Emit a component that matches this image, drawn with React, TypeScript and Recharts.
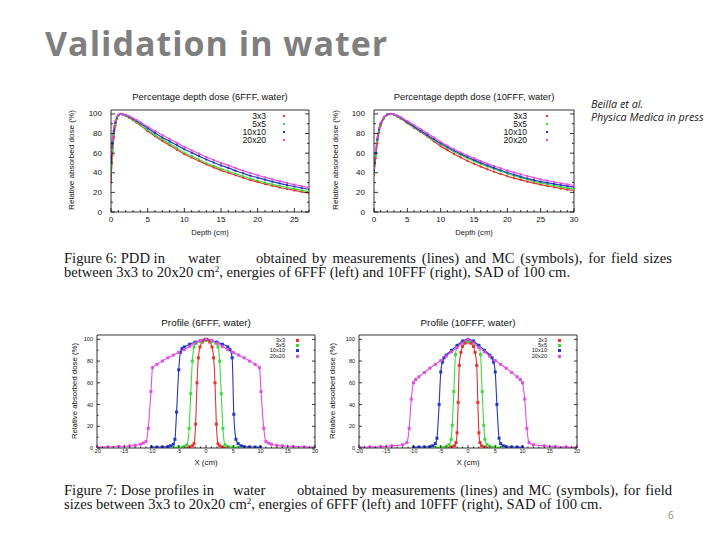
import React from 'react';
import { LineChart, Line, XAxis, YAxis } from 'recharts';

const SANS = '"Liberation Sans", Arial, sans-serif';
const SERIF = '"Liberation Serif", "Times New Roman", serif';
const SLIDE = '"Open Sans", sans-serif';

// ---------- legend / series names ----------
const fieldSizes = ['3x3', '5x5', '10x10', '20x20'];
const seriesColors = ['#e3352d', '#3fd93f', '#2437c0', '#e04fe0'];

// ---------- PDD 6FFF ----------
const pdd6Depth = [0, 0.2, 0.4, 0.6, 0.8, 1.0, 1.3, 1.6, 2, 2.5, 3, 3.5, 4, 5, 6, 7, 8, 9, 10, 11, 12, 13, 14, 15, 16, 17, 18, 19, 20, 21, 22, 23, 24, 25, 26, 27];
const pdd6_3x3 = [30, 58, 76, 88, 95, 98.5, 100, 99.5, 98, 96, 93.5, 91, 88.5, 82.5, 77.5, 72.5, 68, 63.5, 59, 55.5, 52, 48.5, 45.5, 42.5, 40, 37.5, 35, 32.5, 30.5, 28.5, 26.8, 25, 23.5, 22, 20.5, 19.3];
const pdd6_5x5 = [40, 63, 79, 89, 95, 98.5, 100, 99.5, 98.2, 96.3, 94, 91.5, 89, 83.5, 78.5, 74, 69.5, 65, 60.5, 57, 53.5, 50, 47, 44, 41.5, 39, 36.5, 34, 32, 30, 28.2, 26.5, 25, 23.5, 22, 20.8];
const pdd6_10x10 = [50, 70, 83, 91, 96, 98.8, 100, 99.7, 98.7, 97, 95, 92.8, 90.5, 85.5, 80.5, 76, 72, 68, 64, 60.5, 57, 53.5, 50.5, 47.5, 45, 42, 39.5, 37, 35, 33, 31, 29.2, 27.5, 26, 24.5, 23.2];
const pdd6_20x20 = [60, 76, 87, 93, 97, 99, 100, 99.8, 99, 97.5, 95.7, 93.7, 91.5, 87, 82.5, 78.5, 74.5, 70.5, 66.5, 63, 59.5, 56, 53, 50, 47.5, 44.8, 42.2, 39.8, 37.5, 35.3, 33.3, 31.4, 29.6, 28, 26.5, 25];

// ---------- PDD 10FFF ----------
const pdd10Depth = [0, 0.25, 0.5, 0.75, 1, 1.5, 2, 2.5, 3, 3.5, 4, 5, 6, 7, 8, 9, 10, 11, 12, 13, 14, 15, 16, 17, 18, 19, 20, 21, 22, 23, 24, 25, 26, 27, 28, 29, 30];
const pdd10_3x3 = [38, 55, 70, 81, 88, 95.5, 99, 100, 99, 97.3, 95.3, 90.5, 86, 81.5, 77, 72, 67, 63.1, 59.2, 55.7, 52.3, 49.2, 46.3, 43.6, 41.1, 38.7, 36.5, 34.5, 32.7, 31, 29.4, 27.9, 26.5, 25.2, 24, 22.9, 21.9];
const pdd10_5x5 = [40, 57, 72, 82.5, 89, 96, 99.2, 100, 99.2, 97.6, 95.7, 91, 86.6, 82.2, 77.8, 73.3, 69, 65.1, 61.5, 58.1, 54.9, 51.9, 49.1, 46.4, 43.9, 41.5, 39.2, 37, 35, 33.1, 31.3, 29.6, 28.2, 26.9, 25.6, 24.4, 23.3];
const pdd10_10x10 = [42, 60, 74, 84, 90, 96.5, 99.4, 100, 99.5, 98, 96.3, 91.5, 87.2, 82.8, 78.5, 74.2, 70, 66.2, 62.7, 59.3, 56.1, 53.1, 50.2, 47.5, 45, 42.6, 40.3, 38.1, 36.1, 34.2, 32.4, 31, 29.8, 28.6, 27.5, 26.4, 25.4];
const pdd10_20x20 = [45, 63, 76, 85.5, 91, 97, 99.6, 100, 99.6, 98.3, 96.8, 92.7, 88.6, 84.5, 80.4, 76, 71.5, 67.6, 64, 60.7, 57.6, 54.7, 51.9, 49.3, 46.9, 44.6, 42.4, 40.4, 38.5, 36.7, 35, 33.4, 32, 30.6, 29.3, 28.1, 27];

// ---------- Profiles 6FFF ----------
const prof6X_3x3 = [-4, -3, -2.5, -2.2, -1.9, -1.65, -1.4, -1.1, -0.7, -0.3, 0, 0.3, 0.7, 1.1, 1.4, 1.65, 1.9, 2.2, 2.5, 3, 4];
const prof6Y_3x3 = [0.5, 1, 2, 4, 22, 60, 83, 93, 97.5, 99.5, 100, 99.5, 97.5, 93, 83, 60, 22, 4, 2, 1, 0.5];
const prof6X_5x5 = [-6, -5, -4, -3.5, -3.1, -2.8, -2.5, -2.2, -1.8, -1, 0, 1, 1.8, 2.2, 2.5, 2.8, 3.1, 3.5, 4, 5, 6];
const prof6Y_5x5 = [0.5, 0.8, 1.5, 3, 18, 50, 80, 93, 96.5, 98, 99, 98, 96.5, 93, 80, 50, 18, 3, 1.5, 0.8, 0.5];
const prof6X_10x10 = [-10, -9, -8, -7, -6.5, -6, -5.7, -5.4, -5, -4.7, -4.4, -4, -3, -2, -1, 0, 1, 2, 3, 4, 4.4, 4.8, 5.1, 5.5, 5.9, 6.5, 7, 8, 9, 10];
const prof6Y_10x10 = [0.8, 0.9, 1, 1.3, 2, 3.5, 8, 33, 72, 88, 91.5, 93, 95.5, 97.5, 99, 100, 99, 97.5, 95.5, 93, 90.5, 83, 31, 8, 4, 2, 1.3, 1, 0.9, 0.8];
const prof6X_20x20 = [-20, -18, -16, -14, -13, -12, -11.5, -11, -10.6, -10.1, -9.8, -9, -8, -7, -6, -5, -4, -3, -2, -1, 0, 1, 2, 3, 4, 5, 6, 7, 8, 9, 9.8, 10.1, 10.6, 11, 11.5, 12, 13, 14, 16, 18, 20];
const prof6Y_20x20 = [0.8, 1, 1.5, 2, 2.5, 3.5, 4.5, 6, 18, 52, 74, 77, 80, 83, 85.5, 88, 90.5, 93.5, 96.5, 99, 100, 99, 96.5, 93.5, 90.5, 88, 85.5, 83, 80, 77, 74, 52, 18, 6, 4.5, 3.5, 2.5, 2, 1.5, 1, 0.8];

// ---------- Profiles 10FFF ----------
const prof10X_3x3 = [-4, -3, -2.5, -2.2, -2, -1.8, -1.6, -1.3, -1, -0.5, 0, 0.5, 1, 1.3, 1.6, 1.8, 2, 2.2, 2.5, 3, 4];
const prof10Y_3x3 = [0.5, 1, 2, 5, 14, 42, 76, 88, 93.5, 96.5, 97.5, 96.5, 93.5, 88, 76, 42, 14, 5, 2, 1, 0.5];
const prof10X_5x5 = [-6, -5, -4, -3.5, -3.1, -2.9, -2.6, -2.3, -2, -1, 0, 1, 2, 2.3, 2.6, 2.9, 3.1, 3.5, 4, 5, 6];
const prof10Y_5x5 = [0.5, 0.8, 1.5, 3, 8, 21, 52, 86, 93, 97, 98, 97, 93, 86, 52, 21, 8, 3, 1.5, 0.8, 0.5];
const prof10X_10x10 = [-10, -9, -8, -7, -6.5, -6, -5.7, -5.3, -5, -4.7, -4.4, -4, -3, -2, -1, 0, 1, 2, 3, 4, 4.4, 4.7, 5, 5.3, 5.7, 6, 6.5, 7, 8, 9, 10];
const prof10Y_10x10 = [0.8, 0.9, 1, 1.3, 2, 4, 9, 40, 70, 79, 83, 85.5, 90, 94.5, 98.5, 100, 98.5, 94.5, 90, 85.5, 83, 79, 70, 40, 9, 4, 2, 1.3, 1, 0.9, 0.8];
const prof10X_20x20 = [-20, -18, -16, -14, -12, -11.2, -10.8, -10.4, -10, -9.6, -9, -8, -7, -6, -5, -4, -3, -2, -1, 0, 1, 2, 3, 4, 5, 6, 7, 8, 9, 9.6, 10, 10.4, 10.8, 11.2, 12, 14, 16, 18, 20];
const prof10Y_20x20 = [0.8, 1, 1.3, 2, 3, 5, 18, 45, 60, 63, 65.5, 69.5, 73.5, 77, 80.5, 84.5, 88.5, 92.5, 96.5, 100, 96.5, 92.5, 88.5, 84.5, 80.5, 77, 73.5, 69.5, 65.5, 63, 60, 45, 18, 5, 3, 2, 1.3, 1, 0.8];

// ---------- tick labels ----------
const pdd6XTicks = [0, 5, 10, 15, 20, 25];
const pdd10XTicks = [0, 5, 10, 15, 20, 25, 30];
const doseYTicks = [0, 20, 40, 60, 80, 100];
const profXTicks = [-20, -15, -10, -5, 0, 5, 10, 15, 20];

type Pt = { x: number; y: number };
const zip = (xs: number[], ys: number[]): Pt[] => xs.map((x, i) => ({ x, y: ys[i] }));
const steps = (a: number, b: number, s: number) => {
  const out: number[] = [];
  for (let v = a; v <= b + 1e-9; v += s) out.push(Math.round(v * 1000) / 1000);
  return out;
};

const mkSeries = (xs: number[][], ys: number[][]) =>
  fieldSizes.map((name, i) => ({ name, color: seriesColors[i], data: zip(xs[i], ys[i]) }));

const pdd6Series = mkSeries([pdd6Depth, pdd6Depth, pdd6Depth, pdd6Depth], [pdd6_3x3, pdd6_5x5, pdd6_10x10, pdd6_20x20]);
const pdd10Series = mkSeries([pdd10Depth, pdd10Depth, pdd10Depth, pdd10Depth], [pdd10_3x3, pdd10_5x5, pdd10_10x10, pdd10_20x20]);
const prof6Series = mkSeries([prof6X_3x3, prof6X_5x5, prof6X_10x10, prof6X_20x20], [prof6Y_3x3, prof6Y_5x5, prof6Y_10x10, prof6Y_20x20]);
const prof10Series = mkSeries([prof10X_3x3, prof10X_5x5, prof10X_10x10, prof10X_20x20], [prof10Y_3x3, prof10Y_5x5, prof10Y_10x10, prof10Y_20x20]);

interface PlotProps {
  left: number; top: number; width: number; height: number;
  margin: { top: number; right: number; bottom: number; left: number };
  xDomain: [number, number]; xMajor: number[]; xMinorStep: number;
  yDomain: [number, number]; yMajor: number[]; yMinorStep: number;
  series: { name: string; color: string; data: Pt[] }[];
  tickFont: number; gapX: number; gapY: number;
  majorLen: number; minorLen: number; dot: number; stroke: number;
}

function Plot(p: PlotProps) {
  const xTicks = steps(p.xDomain[0], p.xDomain[1], p.xMinorStep);
  const yTicks = steps(p.yDomain[0], 100, p.yMinorStep);
  const isX = (v: number) => p.xMajor.some((m) => Math.abs(m - v) < 1e-6);
  const isY = (v: number) => p.yMajor.some((m) => Math.abs(m - v) < 1e-6);
  const tl = { stroke: '#000', strokeWidth: 0.8 };

  const bottomTick = (t: any) => {
    const v = t.payload.value;
    const major = isX(v);
    const ay = t.y - p.gapX;
    return (
      <g key={`b${v}`}>
        <line x1={t.x} x2={t.x} y1={ay} y2={ay - (major ? p.majorLen : p.minorLen)} {...tl} />
        {major && (
          <text x={t.x} y={t.y} textAnchor="middle" dominantBaseline="hanging" fontSize={p.tickFont} fontFamily={SANS} fill="#111">
            {v}
          </text>
        )}
      </g>
    );
  };
  const topTick = (t: any) => {
    const v = t.payload.value;
    const major = isX(v);
    return <line key={`t${v}`} x1={t.x} x2={t.x} y1={t.y} y2={t.y + (major ? p.majorLen : p.minorLen)} {...tl} />;
  };
  const leftTick = (t: any) => {
    const v = t.payload.value;
    const major = isY(v);
    const ax = t.x + p.gapY;
    return (
      <g key={`l${v}`}>
        <line x1={ax} x2={ax + (major ? p.majorLen : p.minorLen)} y1={t.y} y2={t.y} {...tl} />
        {major && (
          <text x={t.x} y={t.y} textAnchor="end" dominantBaseline="central" fontSize={p.tickFont} fontFamily={SANS} fill="#111">
            {v}
          </text>
        )}
      </g>
    );
  };
  const rightTick = (t: any) => {
    const v = t.payload.value;
    const major = isY(v);
    return <line key={`r${v}`} x1={t.x} x2={t.x - (major ? p.majorLen : p.minorLen)} y1={t.y} y2={t.y} {...tl} />;
  };

  return (
    <div style={{ position: 'absolute', left: p.left, top: p.top }}>
      <LineChart width={p.width} height={p.height} margin={p.margin}>
        <XAxis xAxisId={0} type="number" dataKey="x" domain={p.xDomain} ticks={xTicks} interval={0} allowDataOverflow
          height={1} tickSize={0} tickMargin={p.gapX} tickLine={false} axisLine={tl} tick={bottomTick} />
        <XAxis xAxisId="top" orientation="top" type="number" domain={p.xDomain} ticks={xTicks} interval={0} allowDataOverflow
          height={1} tickSize={0} tickMargin={0} tickLine={false} axisLine={tl} tick={topTick} />
        <YAxis yAxisId={0} type="number" domain={p.yDomain} ticks={yTicks} interval={0} allowDataOverflow
          width={1} tickSize={0} tickMargin={p.gapY} tickLine={false} axisLine={tl} tick={leftTick} />
        <YAxis yAxisId="right" orientation="right" type="number" domain={p.yDomain} ticks={yTicks} interval={0} allowDataOverflow
          width={1} tickSize={0} tickMargin={0} tickLine={false} axisLine={tl} tick={rightTick} />
        {p.series.map((s) => (
          <Line
            key={s.name}
            xAxisId={0}
            yAxisId={0}
            data={s.data}
            dataKey="y"
            type="monotone"
            stroke={s.color}
            strokeWidth={p.stroke}
            isAnimationActive={false}
            activeDot={false}
            dot={(d: any) => (
              <rect key={`${s.name}-${d.index}`} x={d.cx - p.dot / 2} y={d.cy - p.dot / 2} width={p.dot} height={p.dot} fill={s.color} />
            )}
          />
        ))}
      </LineChart>
    </div>
  );
}

function T(props: { x: number; y: number; size: number; children: React.ReactNode; font?: string; rotate?: boolean; color?: string; weight?: number; style?: React.CSSProperties }) {
  const { x, y, size, children, font = SANS, rotate = false, color = '#111', weight = 400, style } = props;
  return (
    <div style={{ position: 'absolute', left: x, top: y, transform: `translate(-50%,-50%)${rotate ? ' rotate(-90deg)' : ''}`, whiteSpace: 'nowrap', fontSize: size, fontFamily: font, color, lineHeight: 1, fontWeight: weight, ...style }}>
      {children}
    </div>
  );
}

function LegendBox(props: { right: number; symX: number; y0: number; rowH: number; font: number; sq: number }) {
  const { right, symX, y0, rowH, font, sq } = props;
  const lh = Math.floor(rowH);
  return (
    <>
      {fieldSizes.map((name, i) => (
        <React.Fragment key={name}>
          <div style={{ position: 'absolute', left: right - 60, width: 60, top: y0 + i * rowH - lh / 2, height: lh, textAlign: 'right', fontSize: font, lineHeight: `${lh}px`, fontFamily: SANS, color: '#111', whiteSpace: 'nowrap' }}>{name}</div>
          <div style={{ position: 'absolute', left: symX - sq / 2, top: y0 + i * rowH - sq / 2, width: sq, height: sq, background: seriesColors[i] }} />
        </React.Fragment>
      ))}
    </>
  );
}

function Caption(props: { top: number; lead: string; leadX: number; gapWordX: number; restX: number; rest: string; second: React.ReactNode; size: number }) {
  const { top, lead, gapWordX, restX, rest, second, size, leadX } = props;
  const lh = 14;
  const base: React.CSSProperties = { position: 'absolute', top, fontSize: size, lineHeight: `${lh}px`, height: lh, fontFamily: SERIF, color: '#151515', whiteSpace: 'nowrap' };
  return (
    <>
      <div style={{ ...base, left: leadX }}>{lead}</div>
      <div style={{ ...base, left: gapWordX }}>water</div>
      <div style={{ ...base, left: restX, width: 672 - restX, whiteSpace: 'normal', textAlign: 'justify', textAlignLast: 'justify' }}>{rest}</div>
      <div style={{ ...base, left: leadX, top: top + lh }}>{second}</div>
    </>
  );
}

const sup = (t: string) => <span style={{ fontSize: 9, position: 'relative', top: -5 }}>{t}</span>;

export default function App() {
  return (
    <div style={{ position: 'absolute', left: 0, top: 0, width: 720, height: 540, background: '#fff', overflow: 'hidden' }}>
      <div style={{ position: 'absolute', left: 45, top: 26, fontFamily: SLIDE, fontWeight: 700, fontSize: 34, lineHeight: '34px', color: '#7f7f7f', letterSpacing: 1, whiteSpace: 'nowrap' }}>
        Validation in water
      </div>
      <div style={{ position: 'absolute', left: 591, top: 97, fontFamily: SLIDE, fontStyle: 'italic', fontSize: 10.8, lineHeight: '13px', color: '#222', whiteSpace: 'nowrap' }}>
        Beilla et al.
        <br />
        Physica Medica in press
      </div>

      {/* PDD 6FFF */}
      <Plot left={60} top={80} width={260} height={170} margin={{ top: 29, right: 10, bottom: 37, left: 50 }}
        xDomain={[0, 27]} xMajor={pdd6XTicks} xMinorStep={1} yDomain={[0, 104]} yMajor={doseYTicks} yMinorStep={10}
        series={pdd6Series} tickFont={8} gapX={4} gapY={9} majorLen={4} minorLen={2} dot={2} stroke={1.2} />
      <T x={210} y={97} size={9.4}>Percentage depth dose (6FFF, water)</T>
      <T x={210} y={233} size={7.6}>Depth (cm)</T>
      <T x={72} y={160} size={8.1} rotate>Relative absorbed dose (%)</T>
      <LegendBox right={266} symX={284} y0={116} rowH={8} font={8.6} sq={2} />

      {/* PDD 10FFF */}
      <Plot left={330} top={80} width={260} height={170} margin={{ top: 29, right: 15, bottom: 37, left: 43 }}
        xDomain={[0, 30]} xMajor={pdd10XTicks} xMinorStep={1} yDomain={[0, 104]} yMajor={doseYTicks} yMinorStep={10}
        series={pdd10Series} tickFont={8} gapX={4} gapY={9} majorLen={4} minorLen={2} dot={2} stroke={1.2} />
      <T x={474} y={97} size={9.4}>Percentage depth dose (10FFF, water)</T>
      <T x={474} y={233} size={7.6}>Depth (cm)</T>
      <T x={336} y={160} size={8.1} rotate>Relative absorbed dose (%)</T>
      <LegendBox right={527} symX={547} y0={116} rowH={8} font={8.6} sq={2} />

      <Caption top={251} size={14.6} leadX={64} lead="Figure 6: PDD in" gapWordX={188} restX={256}
        rest="obtained by measurements (lines) and MC (symbols), for field sizes"
        second={<>between 3x3 to 20x20 cm{sup('2')}, energies of 6FFF (left) and 10FFF (right), SAD of 100 cm.</>} />

      {/* Profile 6FFF */}
      <Plot left={60} top={310} width={270} height={160} margin={{ top: 24, right: 14, bottom: 21, left: 36 }}
        xDomain={[-20, 20]} xMajor={profXTicks} xMinorStep={1} yDomain={[0, 104]} yMajor={doseYTicks} yMinorStep={10}
        series={prof6Series} tickFont={5.5} gapX={1} gapY={4} majorLen={3} minorLen={1.5} dot={3} stroke={1.1} />
      <T x={206} y={323} size={9.9}>Profile (6FFF, water)</T>
      <T x={206} y={463} size={7.9}>X (cm)</T>
      <T x={75} y={391} size={7.8} rotate>Relative absorbed dose (%)</T>
      <LegendBox right={285} symX={297} y0={340} rowH={5.4} font={5.6} sq={3} />

      {/* Profile 10FFF */}
      <Plot left={320} top={310} width={270} height={160} margin={{ top: 24, right: 12, bottom: 21, left: 38 }}
        xDomain={[-20, 20]} xMajor={profXTicks} xMinorStep={1} yDomain={[0, 104]} yMajor={doseYTicks} yMinorStep={10}
        series={prof10Series} tickFont={5.5} gapX={1} gapY={4} majorLen={3} minorLen={1.5} dot={3} stroke={1.1} />
      <T x={468} y={323} size={9.9}>Profile (10FFF, water)</T>
      <T x={468} y={463} size={7.9}>X (cm)</T>
      <T x={333} y={391} size={7.8} rotate>Relative absorbed dose (%)</T>
      <LegendBox right={547} symX={559} y0={340} rowH={5.4} font={5.6} sq={3} />

      <Caption top={483} size={14.6} leadX={64} lead="Figure 7: Dose profiles in" gapWordX={233} restX={297}
        rest="obtained by measurements (lines) and MC (symbols), for field"
        second={<>sizes between 3x3 to 20x20 cm{sup('2')}, energies of 6FFF (left) and 10FFF (right), SAD of 100 cm.</>} />

      <div style={{ position: 'absolute', left: 668, top: 508, fontFamily: SLIDE, fontSize: 10, color: '#8a8a8a' }}>6</div>
    </div>
  );
}
